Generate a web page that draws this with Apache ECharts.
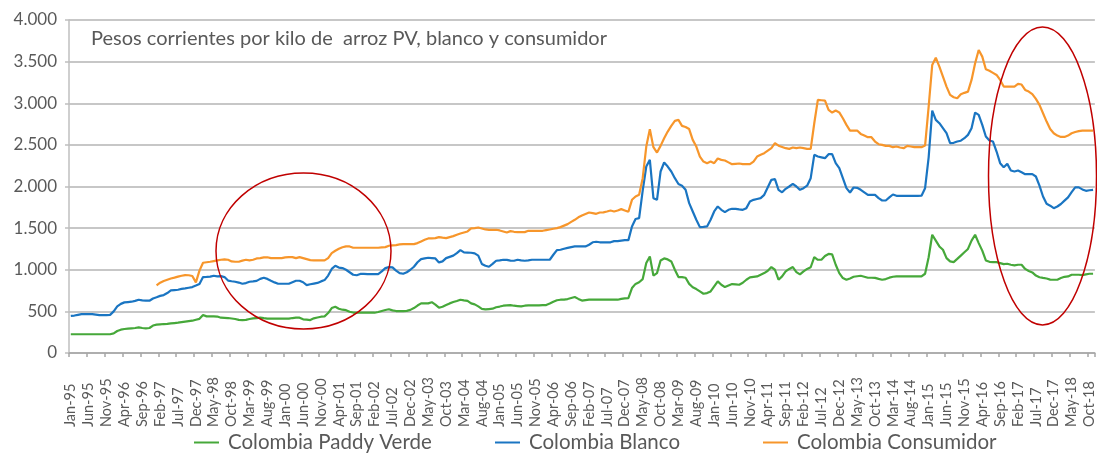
<!DOCTYPE html>
<html>
<head>
<meta charset="utf-8">
<script src="https://cdn.jsdelivr.net/npm/echarts@6/dist/echarts.min.js"></script>
<style>
  html, body { margin: 0; padding: 0; background: #ffffff; }
  #chart { width: 1097px; height: 456px; }
</style>
</head>
<body>
<div id="chart"></div>
<script>
// Monthly rice prices in Colombia, current pesos per kilo, Jan-1995 .. Nov-2018
const monthNames = ['Jan', 'Feb', 'Mar', 'Apr', 'May', 'Jun', 'Jul', 'Aug', 'Sep', 'Oct', 'Nov', 'Dec'];
const firstYear = 1995;
const lastYear = 2018;
const lastMonthOfLastYear = 11; // Nov-18

const categories = [];
for (let y = firstYear; y <= lastYear; y++) {
  const nMonths = y === lastYear ? lastMonthOfLastYear : 12;
  for (let m = 0; m < nMonths; m++) {
    categories.push(monthNames[m] + '-' + String(y).slice(2));
  }
}

const seriesNames = ['Colombia Paddy Verde', 'Colombia Blanco', 'Colombia Consumidor'];

// Paddy verde (rough rice)
const paddyVerde = [
  225, 225, 225, 225, 225, 225, 225, 225, 225, 225, 225, 225,            // 1995
  235, 264, 280, 288, 292, 296, 300, 308, 300, 296, 300, 330,            // 1996
  340, 344, 348, 350, 356, 360, 364, 370, 376, 382, 388, 400,            // 1997
  410, 456, 440, 440, 440, 438, 424, 422, 420, 414, 408, 398,            // 1998
  396, 398, 408, 416, 420, 424, 418, 414, 412, 412, 412, 412,            // 1999
  412, 412, 420, 424, 424, 404, 400, 396, 416, 426, 436, 440,            // 2000
  480, 540, 556, 532, 520, 514, 496, 486, 484, 484, 484, 484,            // 2001
  484, 484, 492, 504, 516, 526, 512, 504, 504, 504, 506, 518,            // 2002
  540, 570, 596, 596, 596, 610, 580, 544, 556, 576, 596, 612,            // 2003
  624, 640, 632, 626, 596, 584, 560, 530, 524, 528, 532, 550,            // 2004
  558, 568, 572, 576, 568, 564, 560, 568, 572, 572, 572, 572,            // 2005
  574, 576, 594, 616, 634, 640, 642, 648, 660, 672, 650, 630,            // 2006
  636, 640, 640, 640, 640, 640, 640, 640, 640, 640, 650, 656,            // 2007
  660, 780, 830, 850, 888, 1080, 1160, 930, 960, 1112, 1136, 1124,       // 2008
  1100, 1000, 912, 912, 904, 830, 790, 768, 740, 712, 720, 740,          // 2009
  800, 860, 820, 792, 810, 828, 824, 820, 844, 880, 908, 914,            // 2010
  920, 940, 960, 988, 1032, 1000, 880, 920, 980, 1010, 1032, 972,        // 2011
  944, 980, 1010, 1030, 1152, 1120, 1120, 1165, 1190, 1185, 1060, 960,   // 2012
  900, 880, 896, 916, 922, 928, 916, 904, 904, 902, 890, 880,            // 2013
  888, 905, 916, 920, 920, 920, 920, 920, 920, 920, 920, 952,            // 2014
  1150, 1420, 1350, 1280, 1240, 1140, 1100, 1092, 1130, 1170, 1210, 1250, // 2015
  1350, 1420, 1320, 1230, 1112, 1095, 1092, 1092, 1080, 1068, 1072, 1060, // 2016
  1052, 1060, 1060, 1010, 985, 968, 930, 910, 902, 895, 882, 880,        // 2017
  880, 900, 915, 920, 940, 940, 940, 935, 945, 952, 952                  // 2018
];

// Blanco (white milled rice, wholesale)
const blanco = [
  445, 450, 458, 466, 468, 468, 468, 462, 456, 456, 456, 458,            // 1995
  500, 560, 590, 608, 612, 616, 626, 640, 632, 628, 628, 655,            // 1996
  670, 686, 696, 720, 752, 756, 760, 770, 776, 784, 792, 810,            // 1997
  830, 912, 914, 918, 928, 920, 924, 912, 870, 862, 856, 846,            // 1998
  832, 840, 856, 860, 866, 890, 904, 890, 868, 848, 832, 832,            // 1999
  832, 832, 850, 868, 868, 850, 816, 826, 834, 842, 860, 876,            // 2000
  930, 1010, 1048, 1026, 1020, 1000, 970, 940, 934, 950, 950, 948,       // 2001
  948, 948, 948, 980, 1020, 1032, 1028, 990, 960, 952, 970, 1000,        // 2002
  1036, 1090, 1128, 1136, 1144, 1140, 1136, 1088, 1100, 1140, 1155, 1170, // 2003
  1200, 1236, 1208, 1206, 1204, 1196, 1170, 1070, 1048, 1036, 1070, 1108, // 2004
  1112, 1120, 1118, 1110, 1108, 1120, 1112, 1108, 1112, 1120, 1120, 1120, // 2005
  1120, 1120, 1120, 1180, 1236, 1240, 1252, 1262, 1272, 1280, 1280, 1280, // 2006
  1280, 1300, 1330, 1336, 1330, 1328, 1328, 1330, 1344, 1344, 1350, 1356, // 2007
  1356, 1520, 1610, 1620, 1950, 2240, 2320, 1860, 1840, 2180, 2288, 2240, // 2008
  2180, 2100, 2030, 2010, 1960, 1800, 1700, 1600, 1512, 1515, 1520, 1600, // 2009
  1700, 1760, 1720, 1692, 1720, 1732, 1732, 1725, 1720, 1740, 1820, 1840, // 2010
  1850, 1860, 1900, 1990, 2080, 2088, 1960, 1930, 1972, 2000, 2032, 2000, // 2011
  1960, 1980, 2010, 2100, 2380, 2360, 2350, 2340, 2388, 2388, 2280, 2220, // 2012
  2100, 1980, 1928, 1988, 1984, 1960, 1930, 1900, 1900, 1900, 1860, 1832, // 2013
  1832, 1870, 1904, 1888, 1888, 1888, 1888, 1888, 1888, 1888, 1890, 1980, // 2014
  2350, 2912, 2800, 2760, 2700, 2640, 2520, 2525, 2540, 2550, 2580, 2620, // 2015
  2700, 2888, 2860, 2740, 2600, 2552, 2540, 2420, 2280, 2232, 2272, 2192, // 2016
  2180, 2192, 2170, 2148, 2148, 2148, 2120, 2010, 1880, 1792, 1770, 1740, // 2017
  1760, 1790, 1830, 1870, 1932, 1990, 1990, 1965, 1948, 1955, 1960        // 2018
];

// Consumidor (retail price); series starts in Jan-97
const consumidor = [
  null, null, null, null, null, null, null, null, null, null, null, null, // 1995
  null, null, null, null, null, null, null, null, null, null, null, null, // 1996
  812, 845, 865, 880, 895, 906, 918, 928, 936, 934, 925, 848,             // 1997
  990, 1084, 1090, 1096, 1104, 1112, 1120, 1124, 1120, 1100, 1096, 1096,  // 1998
  1110, 1120, 1112, 1120, 1136, 1140, 1148, 1150, 1140, 1140, 1140, 1140, // 1999
  1148, 1152, 1152, 1140, 1152, 1140, 1128, 1115, 1112, 1112, 1112, 1112, // 2000
  1140, 1200, 1228, 1252, 1270, 1280, 1280, 1264, 1264, 1264, 1264, 1264, // 2001
  1264, 1264, 1264, 1268, 1272, 1288, 1292, 1296, 1304, 1308, 1308, 1308, // 2002
  1308, 1320, 1340, 1360, 1376, 1378, 1380, 1392, 1385, 1380, 1392, 1404, // 2003
  1420, 1436, 1448, 1460, 1496, 1500, 1508, 1496, 1484, 1480, 1480, 1480, // 2004
  1472, 1460, 1448, 1464, 1456, 1452, 1452, 1452, 1468, 1468, 1468, 1468, // 2005
  1468, 1476, 1484, 1492, 1500, 1512, 1530, 1548, 1575, 1600, 1630, 1652, // 2006
  1670, 1688, 1680, 1672, 1688, 1690, 1700, 1712, 1700, 1712, 1728, 1712, // 2007
  1696, 1840, 1880, 1900, 2100, 2480, 2688, 2472, 2408, 2488, 2580, 2660, // 2008
  2728, 2788, 2800, 2728, 2715, 2690, 2560, 2480, 2360, 2300, 2280, 2300, // 2009
  2280, 2336, 2320, 2312, 2290, 2268, 2272, 2276, 2268, 2268, 2268, 2300, // 2010
  2360, 2380, 2400, 2430, 2460, 2520, 2490, 2475, 2460, 2452, 2468, 2460, // 2011
  2468, 2460, 2452, 2452, 2760, 3040, 3036, 3032, 2920, 2888, 2912, 2890, // 2012
  2820, 2740, 2672, 2672, 2672, 2632, 2612, 2592, 2592, 2540, 2508, 2500, // 2013
  2488, 2488, 2472, 2480, 2468, 2460, 2488, 2480, 2472, 2472, 2472, 2492, // 2014
  2960, 3460, 3548, 3440, 3320, 3200, 3100, 3072, 3060, 3108, 3125, 3140, // 2015
  3280, 3480, 3640, 3560, 3408, 3390, 3365, 3340, 3280, 3200, 3200, 3200, // 2016
  3200, 3232, 3225, 3160, 3140, 3110, 3052, 2980, 2880, 2780, 2690, 2640, // 2017
  2612, 2595, 2595, 2612, 2640, 2655, 2665, 2672, 2672, 2672, 2672        // 2018
];

const yTicks = { min: 0, max: 4000, step: 500 };
const chartTitle = 'Pesos corrientes por kilo de  arroz PV, blanco y consumidor';

const colors = ['#46A83A', '#1A75C2', '#F7962B'];
const textGray = '#595959';
const fontFamily = 'Lato, "Open Sans", sans-serif';

function thousands(v) {
  if (v < 1000) return String(v);
  const k = Math.floor(v / 1000);
  const r = v % 1000;
  return k + '.' + String(r).padStart(3, '0');
}

const chart = echarts.init(document.getElementById('chart'), null, { renderer: 'canvas' });

function legendFor(idx, left) {
  return {
    data: [seriesNames[idx]],
    left: left,
    top: 432,
    padding: 0,
    icon: 'rect',
    itemWidth: 25,
    itemHeight: 2,
    selectedMode: false,
    textStyle: { color: textGray, fontSize: 20.5, fontFamily: fontFamily, padding: [0, 0, 0, 4] }
  };
}

const option = {
  animation: false,
  backgroundColor: '#ffffff',
  color: colors,
  title: {
    text: chartTitle,
    left: 91,
    top: 29,
    padding: 0,
    textStyle: { color: textGray, fontSize: 20, fontWeight: 'normal', fontFamily: fontFamily }
  },
  grid: { left: 69, right: 1, top: 20, bottom: 103, containLabel: false },
  legend: [legendFor(0, 194), legendFor(1, 495), legendFor(2, 763)],
  xAxis: {
    type: 'category',
    data: categories,
    boundaryGap: true,
    axisLine: { show: true, lineStyle: { color: '#A6A6A6', width: 1.5 } },
    axisTick: { show: true, interval: 4, length: 4, lineStyle: { color: '#A6A6A6', width: 1.5 } },
    axisLabel: {
      interval: 4,
      rotate: 90,
      align: 'left',
      verticalAlign: 'middle',
      margin: 74,
      color: textGray,
      fontSize: 14.5,
      fontFamily: fontFamily
    },
    splitLine: { show: false }
  },
  yAxis: {
    type: 'value',
    min: yTicks.min,
    max: yTicks.max,
    interval: yTicks.step,
    axisLine: { show: true, lineStyle: { color: '#BFBFBF', width: 1.5 } },
    axisTick: { show: true, length: 4, lineStyle: { color: '#BFBFBF', width: 1.5 } },
    axisLabel: {
      margin: 12,
      color: textGray,
      fontSize: 17,
      fontFamily: fontFamily,
      formatter: thousands
    },
    splitLine: { show: true, lineStyle: { color: '#B4B4B4', width: 1.5 } }
  },
  series: [
    { name: seriesNames[0], type: 'line', data: paddyVerde, showSymbol: false, symbol: 'none',
      lineStyle: { width: 2.2, color: colors[0] }, itemStyle: { color: colors[0] } },
    { name: seriesNames[1], type: 'line', data: blanco, showSymbol: false, symbol: 'none',
      lineStyle: { width: 2.2, color: colors[1] }, itemStyle: { color: colors[1] } },
    { name: seriesNames[2], type: 'line', data: consumidor, showSymbol: false, symbol: 'none',
      connectNulls: false,
      lineStyle: { width: 2.2, color: colors[2] }, itemStyle: { color: colors[2] } }
  ],
  // hand-drawn highlight rings around the 1998-2001 plateau and the 2016-2018 decline
  graphic: [
    { type: 'ellipse', z: 100, silent: true,
      shape: { cx: 303.5, cy: 251, rx: 87.5, ry: 78 },
      style: { fill: 'none', stroke: '#C00000', lineWidth: 1.5 } },
    { type: 'ellipse', z: 100, silent: true,
      shape: { cx: 1042.5, cy: 176, rx: 54, ry: 149 },
      style: { fill: 'none', stroke: '#C00000', lineWidth: 1.5 } }
  ]
};

chart.setOption(option);
</script>
</body>
</html>
